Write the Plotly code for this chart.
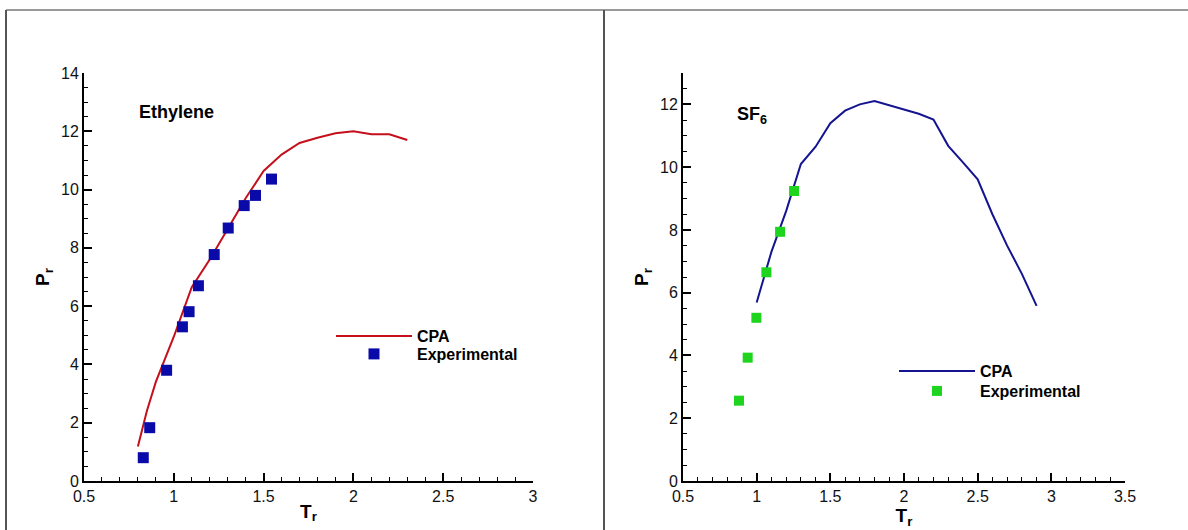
import plotly.graph_objects as go

# Ethylene: CPA model curve and experimental points (reduced T, reduced P)
eth_cpa_tr = [0.8, 0.85, 0.9, 1.0, 1.1, 1.2, 1.3, 1.4, 1.5, 1.6, 1.7, 1.8, 1.9, 2.0, 2.1, 2.2, 2.3]
eth_cpa_pr = [1.18, 2.4, 3.4, 4.95, 6.65, 7.6, 8.65, 9.7, 10.64, 11.2, 11.6, 11.78, 11.93, 12.0, 11.9, 11.9, 11.7]
eth_exp_tr = [0.83, 0.866, 0.96, 1.048, 1.085, 1.137, 1.225, 1.303, 1.392, 1.455, 1.544]
eth_exp_pr = [0.80, 1.83, 3.80, 5.29, 5.81, 6.70, 7.77, 8.68, 9.45, 9.80, 10.36]

# SF6: CPA model curve and experimental points
sf6_cpa_tr = [1.0, 1.1, 1.2, 1.3, 1.4, 1.5, 1.6, 1.7, 1.8, 1.9, 2.0, 2.1, 2.2, 2.3, 2.4, 2.5, 2.6, 2.7, 2.8, 2.9]
sf6_cpa_pr = [5.69, 7.3, 8.6, 10.1, 10.65, 11.4, 11.8, 12.0, 12.11, 11.98, 11.84, 11.7, 11.52, 10.68, 10.15, 9.61, 8.5, 7.5, 6.6, 5.58]
sf6_exp_tr = [0.88, 0.939, 0.998, 1.066, 1.159, 1.254]
sf6_exp_pr = [2.56, 3.93, 5.20, 6.65, 7.94, 9.24]

# tick labels
eth_xticks = [0.5, 1, 1.5, 2, 2.5, 3]
sf6_xticks = [0.5, 1, 1.5, 2, 2.5, 3, 3.5]

FONT = "Arial, Liberation Sans, sans-serif"

fig = go.Figure()

# each legend row gets its own legend box so the rows can be spaced freely
fig.add_trace(go.Scatter(
    x=eth_cpa_tr, y=eth_cpa_pr, mode="lines", name="<b>CPA</b>",
    line=dict(color="#c4101c", width=2), xaxis="x", yaxis="y", legend="legend"))
fig.add_trace(go.Scatter(
    x=eth_exp_tr, y=eth_exp_pr, mode="markers", name="<b>Experimental</b>",
    marker=dict(symbol="square", size=11, color="#0a0aa8"), xaxis="x", yaxis="y", legend="legend2"))

fig.add_trace(go.Scatter(
    x=sf6_cpa_tr, y=sf6_cpa_pr, mode="lines", name="<b>CPA</b>",
    line=dict(color="#141490", width=2), xaxis="x2", yaxis="y2", legend="legend3"))
fig.add_trace(go.Scatter(
    x=sf6_exp_tr, y=sf6_exp_pr, mode="markers", name="<b>Experimental</b>",
    marker=dict(symbol="square", size=10, color="#1ed41e"), xaxis="x2", yaxis="y2", legend="legend4"))

W, H = 1188, 530


def px_x(p):
    return p / W


def px_y(p):
    return 1 - p / H


axis_common = dict(
    showline=True, linecolor="black", linewidth=2, mirror=False,
    ticks="inside", ticklen=8, tickwidth=1.5, tickcolor="black",
    showgrid=False, zeroline=False, automargin=False,
    tickfont=dict(family=FONT, size=16, color="#111"),
    title_font=dict(family=FONT, size=19, color="black"),
)
minor_x = dict(ticks="inside", ticklen=4, dtick=0.1, tickcolor="black", tickwidth=1)
minor_y = dict(ticks="inside", ticklen=4, dtick=0.5, tickcolor="black", tickwidth=1)


def legend_box(left_px, top_px):
    return dict(x=px_x(left_px), y=px_y(top_px), xanchor="left", yanchor="top",
                bgcolor="rgba(0,0,0,0)", borderwidth=0, itemwidth=76, tracegroupgap=0,
                font=dict(family=FONT, size=16, color="black"))


fig.update_layout(
    width=W, height=H,
    margin=dict(l=0, r=0, t=0, b=0, autoexpand=False),
    paper_bgcolor="white", plot_bgcolor="white",
    font=dict(family=FONT, color="black"),
    showlegend=True,
    xaxis=dict(
        axis_common, domain=[px_x(84), px_x(533)], range=[0.5, 3],
        tickvals=eth_xticks, ticktext=[f"{v:g}" for v in eth_xticks], minor=minor_x,
        title=dict(text="<b>T<sub>r</sub></b>", standoff=0), anchor="y"),
    yaxis=dict(
        axis_common, domain=[px_y(481), px_y(73)], range=[0, 14], dtick=2, minor=minor_y,
        title=dict(text="<b>P<sub>r</sub></b>", standoff=6), anchor="x"),
    xaxis2=dict(
        axis_common, domain=[px_x(683), px_x(1125)], range=[0.5, 3.5],
        tickvals=sf6_xticks, ticktext=[f"{v:g}" for v in sf6_xticks], minor=minor_x,
        title=dict(text="<b>T<sub>r</sub></b>", standoff=0), anchor="y2"),
    yaxis2=dict(
        axis_common, domain=[px_y(481), px_y(73)], range=[0, 13], dtick=2, minor=minor_y,
        title=dict(text="<b>P<sub>r</sub></b>", standoff=6), anchor="x2"),
    legend=legend_box(331, 319),
    legend2=legend_box(331, 337),
    legend3=legend_box(894, 354),
    legend4=legend_box(894, 374),
    annotations=[
        dict(text="<b>Ethylene</b>", x=px_x(176), y=px_y(112), xref="paper", yref="paper",
             xanchor="center", yanchor="middle", showarrow=False,
             font=dict(family=FONT, size=18, color="black")),
        dict(text="<b>SF<sub>6</sub></b>", x=px_x(752), y=px_y(115), xref="paper", yref="paper",
             xanchor="center", yanchor="middle", showarrow=False,
             font=dict(family=FONT, size=18, color="black")),
    ],
    shapes=[
        # panel frame lines
        dict(type="line", xref="paper", yref="paper", x0=px_x(6), x1=1, y0=px_y(10), y1=px_y(10),
             line=dict(color="#9a9a9a", width=2)),
        dict(type="line", xref="paper", yref="paper", x0=px_x(6), x1=px_x(6), y0=px_y(10), y1=0,
             line=dict(color="#555555", width=2)),
        dict(type="line", xref="paper", yref="paper", x0=px_x(604), x1=px_x(604), y0=px_y(10), y1=0,
             line=dict(color="#555555", width=2)),
    ],
)

fig.write_html("out.html")
